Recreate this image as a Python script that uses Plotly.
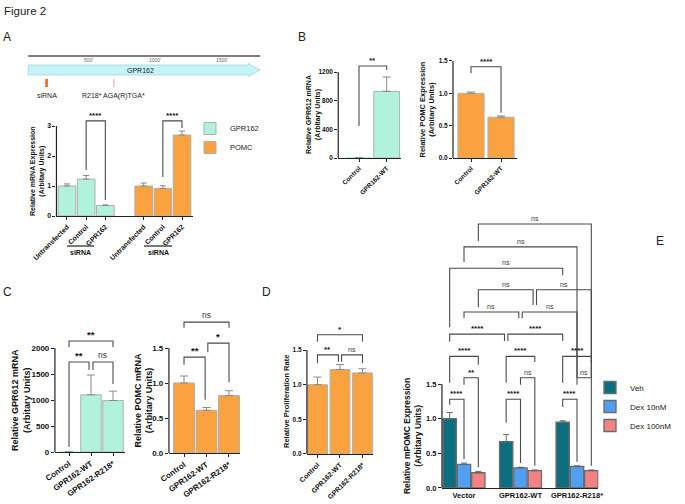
import plotly.graph_objects as go

W, H = 685, 504
FONT = "Liberation Sans"

# ---------------- data ----------------
a_cats = ["Untransfected", "Control", "GPR162", "Untransfected", "Control", "GPR162"]
a_gpr_x = [0, 1, 2]
a_gpr_vals = [1.00, 1.23, 0.35]
a_gpr_err = [0.07, 0.12, 0.02]
a_pomc_x = [4, 5, 6]
a_pomc_vals = [1.00, 0.92, 2.70]
a_pomc_err = [0.10, 0.09, 0.13]

b_cats = ["Control", "GPR162-WT"]
b_gpr_vals = [1, 930]
b_gpr_err = [0, 200]
b_pomc_vals = [1.00, 0.63]
b_pomc_err = [0.02, 0.02]

c_cats = ["Control", "GPR162-WT", "GPR162-R218*"]
c_gpr_vals = [1, 1100, 990]
c_gpr_err = [0, 380, 180]
c_pomc_vals = [1.00, 0.61, 0.82]
c_pomc_err = [0.10, 0.04, 0.07]

d_cats = ["Control", "GPR162-WT", "GPR162-R218*"]
d_vals = [1.00, 1.22, 1.17]
d_err = [0.11, 0.07, 0.06]

e_groups = ["Vector", "GPR162-WT", "GPR162-R218*"]
e_series = ["Veh", "Dex 10nM", "Dex 100nM"]
e_veh = [1.00, 0.67, 0.95]
e_veh_err = [0.09, 0.10, 0.02]
e_dex10 = [0.34, 0.29, 0.31]
e_dex10_err = [0.02, 0.01, 0.01]
e_dex100 = [0.22, 0.25, 0.25]
e_dex100_err = [0.02, 0.01, 0.01]

gene_name = "GPR162"
gene_start, gene_body_end, gene_end = 50, 1700, 1790
gene_ticks = [500, 1000, 1500]
sirna_pos = [178, 198]
r218_pos = [688, 698]

# significance: (i, j, label, top, bottom_i, bottom_j, dx_i, dx_j)
a_sig = [(1, 2, "****", 3.17, 1.53, 0.53, 0, 0),
         (5, 6, "****", 3.17, 1.30, 2.93, 0, 0)]
b1_sig = [(0, 1, "**", 1284, 446, 1228, 0, 0)]
b2_sig = [(0, 1, "****", 1.41, 1.31, 0.70, 0, 0)]
c1_sig = [(0, 2, "**", 2135, 2020, 2020, 0, 0),
          (0, 1, "**", 1730, 100, 1577, 0, -0.09),
          (1, 2, "ns", 1730, 1577, 1308, 0.09, 0)]
c2_sig = [(0, 2, "ns", 1.87, 1.79, 1.79, 0, 0),
          (1, 2, "*", 1.57, 1.44, 1.01, 0.06, 0),
          (0, 1, "**", 1.37, 1.26, 0.76, 0, -0.06)]
d_sig = [(0, 2, "*", 1.72, 1.62, 1.62, 0, 0),
         (0, 1, "**", 1.43, 1.31, 1.33, 0, -0.07),
         (1, 2, "ns", 1.43, 1.33, 1.31, 0.07, 0)]
# E: ((group, series), (group, series), label, top, bottom0, bottom1, dx0, dx1)
e_sig = [((0, 2), (2, 2), "ns", 3.81, 3.56, 1.59, 0, 0),
         ((0, 1), (2, 1), "ns", 3.48, 3.26, 1.59, 0, 0),
         ((0, 0), (2, 0), "ns", 3.17, 2.32, 3.07, 0, 0),
         ((0, 2), (1, 2), "ns", 2.86, 2.61, 2.64, 0, -0.03),
         ((1, 2), (2, 2), "ns", 2.86, 2.64, 1.59, 0.03, 0),
         ((0, 1), (1, 1), "ns", 2.54, 2.45, 2.45, 0, -0.03),
         ((1, 1), (2, 1), "ns", 2.54, 2.45, 1.59, 0.03, 0),
         ((0, 0), (1, 0), "****", 2.22, 2.11, 2.12, 0, -0.03),
         ((1, 0), (2, 0), "****", 2.22, 2.12, 2.12, 0.03, 0),
         ((0, 0), (0, 2), "****", 1.90, 1.52, 1.78, 0, 0),
         ((1, 0), (1, 2), "****", 1.90, 1.52, 1.82, 0, 0),
         ((2, 0), (2, 2), "****", 1.90, 1.52, 1.82, 0, 0),
         ((0, 1), (0, 2), "**", 1.59, 1.49, 0.30, 0, 0),
         ((1, 1), (1, 2), "ns", 1.59, 1.49, 0.32, 0, 0),
         ((2, 1), (2, 2), "ns", 1.59, 1.49, 0.32, 0, 0),
         ((0, 0), (0, 1), "****", 1.28, 1.20, 0.42, 0, 0),
         ((1, 0), (1, 1), "****", 1.28, 0.94, 0.36, 0, 0),
         ((2, 0), (2, 1), "****", 1.28, 1.17, 0.38, 0, 0)]

# ---------------- style ----------------
MINT = "#b1f2dc"
ORANGE = "#f9a23f"
TEAL = "#0c6f80"
BLUE = "#4f9ff2"
SALMON = "#f58282"
EDGE = "#b0b0b0"
EDGE_E = "#6b6b6b"
AXC = "#222222"
BRC = "#4a4a4a"
E_BARGAP = 0.24
E_SLOT = (1 - E_BARGAP) / 3


def px2x(p):
    return p / W


def py2y(p):
    return 1 - p / H


fig = go.Figure()
layout = dict(width=W, height=H, margin=dict(l=0, r=0, t=0, b=0, autoexpand=False),
              paper_bgcolor="white", plot_bgcolor="white",
              font=dict(family=FONT, color="#111"),
              barmode="group", bargap=E_BARGAP, bargroupgap=0.07)
shapes = []
annotations = []
G = {}


def note(xpx, ypx, text, size, color="#222", bold=False, angle=0, xanchor="center"):
    annotations.append(dict(xref="paper", yref="paper", x=px2x(xpx), y=py2y(ypx),
                            text=text, textangle=angle, showarrow=False,
                            xanchor=xanchor, yanchor="middle",
                            font=dict(family=FONT, size=size, color=color,
                                      weight="bold" if bold else "normal")))


def add_axes(key, idx, x0, xs, xr, y0, ys, yr, xticks, xtext, yticks, ytickfmt,
             tsize, xangle=-45, xticklen=3, xtsize=None):
    sfx = "" if idx == 1 else str(idx)
    G[key] = dict(sfx=sfx, x0=x0, xs=xs, xr=xr, y0=y0, ys=ys, yr=yr)
    left = x0 + xr[0] * xs
    right = x0 + xr[1] * xs
    bot = y0 - yr[0] * ys
    top = y0 - yr[1] * ys
    tf = dict(family=FONT, size=tsize, color="#111", weight="bold")
    xtf = dict(family=FONT, size=xtsize or tsize, color="#111", weight="bold")
    layout["xaxis" + sfx] = dict(domain=[px2x(left), px2x(right)], range=list(xr),
                                 anchor="y" + sfx, showline=True, linecolor=AXC,
                                 linewidth=1.2, ticks="outside" if xticklen else "",
                                 ticklen=xticklen, tickwidth=1, tickcolor=AXC,
                                 tickvals=xticks, ticktext=xtext, tickangle=xangle,
                                 tickfont=xtf, showgrid=False, zeroline=False,
                                 fixedrange=True, automargin=False)
    layout["yaxis" + sfx] = dict(domain=[py2y(bot), py2y(top)], range=list(yr),
                                 anchor="x" + sfx, showline=False, ticks="outside",
                                 ticklen=3, tickwidth=1, tickcolor=AXC,
                                 tickvals=yticks, tickformat=ytickfmt, tickfont=tf,
                                 showgrid=False, zeroline=False, fixedrange=True,
                                 automargin=False)
    # y-axis line only over the tick span
    shapes.append(dict(type="line", xref="paper", yref="paper",
                       x0=px2x(left), x1=px2x(left),
                       y0=py2y(y0), y1=py2y(y0 - max(yticks) * ys),
                       line=dict(color=AXC, width=1.2)))


def ytitle(key, xpx, text, size):
    g = G[key]
    ymax = max(layout["yaxis" + g["sfx"]]["tickvals"])
    yc = g["y0"] - ymax * g["ys"] / 2
    note(xpx, yc, text, size, color="#111", bold=True, angle=-90)


def bracket(key, xa, xb, top, ba, bb, label, size):
    sfx = G[key]["sfx"]
    shapes.append(dict(type="path", xref="x" + sfx, yref="y" + sfx,
                       path=f"M{xa},{ba} L{xa},{top} L{xb},{top} L{xb},{bb}",
                       line=dict(color=BRC, width=1.1)))
    star = "*" in label
    annotations.append(dict(xref="x" + sfx, yref="y" + sfx, x=(xa + xb) / 2, y=top,
                            text=label, showarrow=False, xanchor="center", yanchor="bottom",
                            yshift=-1 if star else 0,
                            font=dict(family=FONT, size=size + (1 if star else 0),
                                      color="#111" if star else "#3a3a3a",
                                      weight="bold" if star else "normal")))


def bars(key, x, y, err, color, width, name=None, legend=None, cap=3):
    sfx = G[key]["sfx"]
    lw = [1 if e else 0 for e in err]
    fig.add_trace(go.Bar(x=x, y=y, xaxis="x" + sfx, yaxis="y" + sfx,
                         width=width, offset=-width / 2,
                         marker=dict(color=color, line=dict(color=EDGE, width=lw)),
                         error_y=dict(type="data", array=[e if e else None for e in err],
                                      arrayminus=[0] * len(err),
                                      symmetric=False, color="#8a8a8a", thickness=1,
                                      width=cap),
                         name=name, showlegend=name is not None,
                         legend=legend or "legend", hoverinfo="skip"))


# ---------------- panel A ----------------
add_axes("A", 1, 67, 19.17, (-0.55, 6.55), 216, 30, (0, 3.55),
         [0, 1, 2, 4, 5, 6], a_cats, [0, 1, 2, 3], None, 7)
bars("A", a_gpr_x, a_gpr_vals, a_gpr_err, MINT, 0.92, "GPR162", "legend")
bars("A", a_pomc_x, a_pomc_vals, a_pomc_err, ORANGE, 0.92, "POMC", "legend")
ytitle("A", 37, "Relative mRNA Expression<br>(Arbitary Units)", 7)
for i, j, lab, top, bi, bj, di, dj in a_sig:
    bracket("A", i + di, j + dj, top, bi, bj, lab, 7)
for xa, xb in [(67, 94), (144, 172)]:
    shapes.append(dict(type="line", xref="paper", yref="paper", x0=px2x(xa), x1=px2x(xb),
                       y0=py2y(246), y1=py2y(246), line=dict(color=AXC, width=1.2)))
    note((xa + xb) / 2, 252, "siRNA", 7, color="#111", bold=True)

# ---------------- panel B ----------------
add_axes("B1", 2, 359, 27.7, (-0.75, 1.5), 158, 86 / 1200, (0, 1450),
         [0, 1], b_cats, [0, 400, 800, 1200], None, 6.5)
bars("B1", [0, 1], b_gpr_vals, b_gpr_err, MINT, 0.93, cap=4)
ytitle("B1", 314, "Relative GPR612 mRNA<br>(Arbitary Units)", 7)
for i, j, lab, top, bi, bj, di, dj in b1_sig:
    bracket("B1", i + di, j + dj, top, bi, bj, lab, 7)

add_axes("B2", 3, 471, 30, (-0.6, 1.53), 158, 64.7, (0, 1.58),
         [0, 1], b_cats, [0, 0.5, 1.0, 1.5], ".1f", 6.5)
bars("B2", [0, 1], b_pomc_vals, b_pomc_err, ORANGE, 0.87, cap=4)
ytitle("B2", 427, "Relative POMC Expression<br>(Arbitary Units)", 7.5)
for i, j, lab, top, bi, bj, di, dj in b2_sig:
    bracket("B2", i + di, j + dj, top, bi, bj, lab, 7)

# ---------------- panel C ----------------
add_axes("C1", 4, 69, 22, (-0.64, 2.55), 452, 0.052, (0, 2400),
         [0, 1, 2], c_cats, [0, 500, 1000, 1500, 2000], None, 8, xangle=-35, xtsize=8)
bars("C1", [0, 1, 2], c_gpr_vals, c_gpr_err, MINT, 0.93, cap=4)
ytitle("C1", 21, "Relative GPR612 mRNA<br>(Arbitary Units)", 9)
for i, j, lab, top, bi, bj, di, dj in c1_sig:
    bracket("C1", i + di, j + dj, top, bi, bj, lab, 8.5)

add_axes("C2", 5, 184, 22.5, (-0.67, 2.49), 453, 70, (0, 2.1),
         [0, 1, 2], c_cats, [0, 0.5, 1.0, 1.5], ".1f", 8, xangle=-35, xtsize=8)
bars("C2", [0, 1, 2], c_pomc_vals, c_pomc_err, ORANGE, 0.93, cap=4)
ytitle("C2", 143, "Relative POMC mRNA<br>(Arbitary Units)", 9)
for i, j, lab, top, bi, bj, di, dj in c2_sig:
    bracket("C2", i + di, j + dj, top, bi, bj, lab, 8.5)

# ---------------- panel D ----------------
add_axes("D", 6, 317.5, 22.5, (-0.47, 2.47), 454, 69.3, (0, 1.95),
         [0, 1, 2], d_cats, [0, 0.5, 1.0, 1.5], ".1f", 6.5, xtsize=7)
bars("D", [0, 1, 2], d_vals, d_err, ORANGE, 0.88, cap=4)
ytitle("D", 286, "Relative Proliferation Rate", 7.5)
for i, j, lab, top, bi, bj, di, dj in d_sig:
    bracket("D", i + di, j + dj, top, bi, bj, lab, 7)

# ---------------- panel E ----------------
add_axes("E", 7, 464, 56.5, (-0.39, 2.38), 488, 69.3, (0, 4.05),
         [0, 1, 2], e_groups, [0, 0.5, 1.0, 1.5], ".1f", 7.5, xangle=0, xticklen=0)
for name, vals, err, col in [(e_series[0], e_veh, e_veh_err, TEAL),
                             (e_series[1], e_dex10, e_dex10_err, BLUE),
                             (e_series[2], e_dex100, e_dex100_err, SALMON)]:
    fig.add_trace(go.Bar(x=[0, 1, 2], y=vals, xaxis="x7", yaxis="y7", name=name,
                         marker=dict(color=col, line=dict(color=EDGE_E, width=1.3)),
                         error_y=dict(type="data", array=err, arrayminus=[0] * 3,
                                      symmetric=False, color="#666", thickness=1, width=3),
                         legend="legend2", hoverinfo="skip"))
ytitle("E", 412, "Relative mPOMC Expression<br>(Arbitary Units)", 8.5)
for (g0, s0), (g1, s1), lab, top, b0, b1, d0, d1 in e_sig:
    xa = g0 + (s0 - 1) * E_SLOT + d0
    xb = g1 + (s1 - 1) * E_SLOT + d1
    bracket("E", xa, xb, top, b0, b1, lab, 7)

# ---------------- gene schematic (panel A top) ----------------
layout["xaxis8"] = dict(domain=[px2x(21.5), px2x(261.5)], range=[0, 1800],
                        anchor="y8", visible=False, fixedrange=True, automargin=False)
layout["yaxis8"] = dict(domain=[py2y(100), py2y(50)], range=[0, 10],
                        anchor="x8", visible=False, fixedrange=True, automargin=False)
shapes.append(dict(type="line", xref="x8", yref="y8", x0=gene_start, x1=gene_end,
                   y0=8.8, y1=8.8, line=dict(color="#555", width=1.6)))
shapes.append(dict(type="path", xref="x8", yref="y8",
                   path=(f"M{gene_start},7 L{gene_body_end},7 L{gene_body_end},7.3 "
                         f"L{gene_end},6 L{gene_body_end},4.7 L{gene_body_end},5 "
                         f"L{gene_start},5 Z"),
                   fillcolor="#c6f3f7", line=dict(color="#9fd8e0", width=0.8)))
shapes.append(dict(type="rect", xref="x8", yref="y8", x0=sirna_pos[0], x1=sirna_pos[1],
                   y0=2.6, y1=4.2, fillcolor="#f06a1c", line=dict(width=0)))
shapes.append(dict(type="rect", xref="x8", yref="y8", x0=r218_pos[0], x1=r218_pos[1],
                   y0=2.6, y1=4.2, fillcolor="#f5b3b3", line=dict(width=0)))
for t in gene_ticks:
    annotations.append(dict(xref="x8", yref="y8", x=t, y=7.9, text=f"{t}'",
                            showarrow=False, xanchor="center",
                            font=dict(family=FONT, size=5, color="#666")))
annotations.append(dict(xref="x8", yref="y8", x=889, y=6, text=gene_name, showarrow=False,
                        xanchor="center", font=dict(family=FONT, size=7, color="#222")))
annotations.append(dict(xref="x8", yref="y8", x=sum(sirna_pos) / 2, y=0.9, text="siRNA",
                        showarrow=False, xanchor="center",
                        font=dict(family=FONT, size=7, color="#222")))
annotations.append(dict(xref="x8", yref="y8", x=sum(r218_pos) / 2 - 5, y=0.9,
                        text="R218* AGA(R)TGA*", showarrow=False, xanchor="center",
                        font=dict(family=FONT, size=7, color="#222")))

# ---------------- labels ----------------
note(2, 11, "Figure 2", 11.5, xanchor="left")
for lab, xp, yp in [("A", 7, 37), ("B", 302, 37), ("C", 7, 292), ("D", 266, 292), ("E", 660, 241)]:
    note(xp, yp, lab, 12)

layout["legend"] = dict(x=px2x(190), y=py2y(114), xanchor="left", yanchor="top",
                        bgcolor="rgba(0,0,0,0)", font=dict(family=FONT, size=7.5, color="#222"),
                        tracegroupgap=0)
layout["legend2"] = dict(x=px2x(590), y=py2y(373), xanchor="left", yanchor="top",
                         bgcolor="rgba(0,0,0,0)", font=dict(family=FONT, size=8, color="#222"),
                         tracegroupgap=0)
layout["shapes"] = shapes
layout["annotations"] = annotations
fig.update_layout(**layout)
fig.write_html("out.html", config={"displayModeBar": False},
               post_script="document.body.style.margin='0';document.body.style.overflow='hidden';")
